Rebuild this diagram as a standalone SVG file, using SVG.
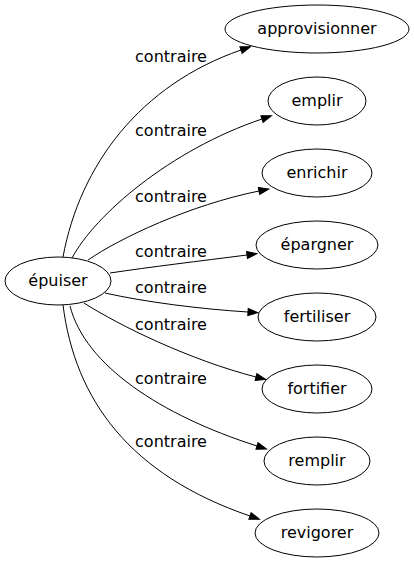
<svg xmlns="http://www.w3.org/2000/svg" width="414" height="563" viewBox="0 0 414 563">
<style>
.n ellipse{fill:none;stroke:#000;stroke-width:1}
text{font-family:"DejaVu Sans",sans-serif;font-size:16px;fill:#000;text-anchor:middle}
.e path{fill:none;stroke:#000;stroke-width:1}
</style>
<defs>
<marker id="ah" markerUnits="userSpaceOnUse" markerWidth="11" markerHeight="8" refX="0" refY="3.5" orient="auto" overflow="visible">
<path d="M0,0 L10,3.5 L0,7 z" fill="#000" stroke="#000" stroke-width="1"/>
</marker>
</defs>
<rect width="414" height="563" fill="#fff"/>
<g id="edges" class="e">
<path d="M63,257 C80,165 140,85 241,50" marker-end="url(#ah)"/>
<path d="M72,258 C95,215 170,150 262,119" marker-end="url(#ah)"/>
<path d="M88,260 C120,238 190,205 259,191" marker-end="url(#ah)"/>
<path d="M110,273 C150,267 200,261 247,255" marker-end="url(#ah)"/>
<path d="M105,293 C145,302 200,309 248,312" marker-end="url(#ah)"/>
<path d="M84,303 C120,326 190,360 256,377" marker-end="url(#ah)"/>
<path d="M70,306 C85,365 160,415 257,446" marker-end="url(#ah)"/>
<path d="M63,305 C75,400 130,475 250,516" marker-end="url(#ah)"/>
<text x="171" y="62">contraire</text>
<text x="171" y="136">contraire</text>
<text x="171" y="202">contraire</text>
<text x="171" y="257">contraire</text>
<text x="171" y="293">contraire</text>
<text x="171" y="330">contraire</text>
<text x="171" y="384">contraire</text>
<text x="171" y="447">contraire</text>
</g>
<g id="epuiser" class="n"><ellipse cx="58" cy="281" rx="53" ry="24"/><text x="58" y="286">épuiser</text></g>
<g id="approvisionner" class="n"><ellipse cx="317" cy="29" rx="92" ry="24"/><text x="317" y="34">approvisionner</text></g>
<g id="emplir" class="n"><ellipse cx="317" cy="101" rx="49" ry="24"/><text x="317" y="106">emplir</text></g>
<g id="enrichir" class="n"><ellipse cx="317" cy="173" rx="55" ry="24"/><text x="317" y="178">enrichir</text></g>
<g id="epargner" class="n"><ellipse cx="317" cy="245" rx="61" ry="24"/><text x="317" y="250">épargner</text></g>
<g id="fertiliser" class="n"><ellipse cx="317" cy="317" rx="59" ry="24"/><text x="317" y="322">fertiliser</text></g>
<g id="fortifier" class="n"><ellipse cx="317" cy="389" rx="55" ry="24"/><text x="317" y="394">fortifier</text></g>
<g id="remplir" class="n"><ellipse cx="317" cy="461" rx="53" ry="24"/><text x="317" y="466">remplir</text></g>
<g id="revigorer" class="n"><ellipse cx="317" cy="533" rx="62" ry="24"/><text x="317" y="538">revigorer</text></g>
</svg>
